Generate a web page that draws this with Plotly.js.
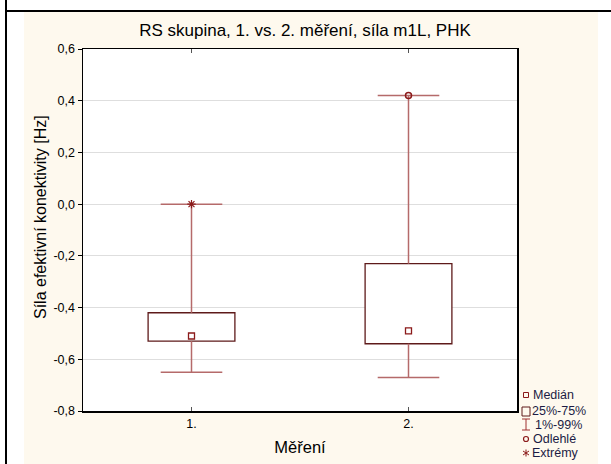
<!DOCTYPE html>
<html>
<head>
<meta charset="utf-8">
<script src="https://cdn.plot.ly/plotly-3.0.1.min.js"></script>
<style>
  html, body { margin: 0; padding: 0; background: #ffffff; }
  #page { position: relative; width: 611px; height: 464px; overflow: hidden; background: #ffffff; }
  #frameLeft { position: absolute; left: 5px; top: 0; width: 2px; height: 464px; background: #000; }
  #frameTop { position: absolute; left: 5px; top: 10px; width: 606px; height: 2px; background: #000; }
  #chart { position: absolute; left: 24px; top: 12px; width: 574px; height: 452px; }
</style>
</head>
<body>
<div id="page">
  <div id="frameLeft"></div>
  <div id="frameTop"></div>
  <div id="chart"></div>
</div>
<script>
// Box-plot summary per measurement
const categories   = ['1.', '2.'];
const q1           = [-0.53, -0.54];
const q3           = [-0.42, -0.23];
const median       = [-0.51, -0.49];
const lowerWhisker = [-0.65, -0.67];
const upperWhisker = [0.00, 0.42];
// Flagged points
const outlierX = ['2.'];
const outlierY = [0.42];
const extremeX = ['1.'];
const extremeY = [0.00];

// Y-axis ticks with decimal commas
const yTickVals = [-0.8, -0.6, -0.4, -0.2, 0.0, 0.2, 0.4, 0.6];
const yTickText = ['-0,8', '-0,6', '-0,4', '-0,2', '0,0', '0,2', '0,4', '0,6'];

const BOX_LINE = '#5e1a1a';
const WHISKER = '#b56a6a';
const MARK = '#8b1a1a';
const FONT = 'Liberation Sans, Arial, sans-serif';

// whisker stems: from box edges out to the whisker ends
const stemX = [], stemY = [];
categories.forEach((c, i) => {
  stemX.push(c, c, null, c, c, null);
  stemY.push(q3[i], upperWhisker[i], null, q1[i], lowerWhisker[i], null);
});
const capX = categories.concat(categories);
const capY = upperWhisker.concat(lowerWhisker);

const traces = [
  {
    type: 'bar', x: categories, base: q1,
    y: q3.map((v, i) => v - q1[i]),
    width: 0.4,
    marker: { color: '#ffffff', line: { color: BOX_LINE, width: 1.3 } },
    hoverinfo: 'skip', showlegend: false
  },
  {
    type: 'scatter', mode: 'lines', x: stemX, y: stemY,
    line: { color: WHISKER, width: 1.5 }, connectgaps: false,
    hoverinfo: 'skip', showlegend: false
  },
  {
    type: 'scatter', mode: 'markers', x: capX, y: capY,
    marker: { symbol: 'line-ew', size: 44, line: { color: WHISKER, width: 1.5 } },
    hoverinfo: 'skip', showlegend: false
  },
  {
    type: 'scatter', mode: 'markers', x: categories, y: median,
    marker: { symbol: 'square-open', size: 6, color: MARK, line: { width: 1.3 } },
    showlegend: false
  },
  {
    type: 'scatter', mode: 'markers', x: outlierX, y: outlierY,
    marker: { symbol: 'circle-open', size: 6, color: MARK, line: { width: 1.5 } },
    showlegend: false
  },
  {
    type: 'scatter', mode: 'markers', x: extremeX, y: extremeY,
    marker: { symbol: 'asterisk-open', size: 7, color: MARK, line: { width: 1.2, color: MARK } },
    showlegend: false
  }
];

// page-pixel to paper conversion for the key and the axis caption
const PL = 83, PR = 517, PT = 49, PB = 411;
const px = X => (X - PL) / (PR - PL);
const py = Y => (PB - Y) / (PB - PT);

const keyShapes = [
  { type: 'rect', xref: 'paper', yref: 'paper', x0: px(523.5), x1: px(528.5), y0: py(397.5), y1: py(392.5),
    line: { color: MARK, width: 1 } },
  { type: 'rect', xref: 'paper', yref: 'paper', x0: px(522), x1: px(530), y0: py(416), y1: py(407),
    line: { color: BOX_LINE, width: 1 } },
  { type: 'path', xref: 'paper', yref: 'paper',
    path: `M ${px(522)} ${py(419)} H ${px(530)} M ${px(526)} ${py(419)} V ${py(430)} M ${px(522)} ${py(430)} H ${px(530)}`,
    line: { color: '#a03030', width: 1 } },
  { type: 'circle', xref: 'paper', yref: 'paper', x0: px(523.5), x1: px(528.5), y0: py(441.5), y1: py(436.5),
    line: { color: MARK, width: 1.2 } },
  { type: 'path', xref: 'paper', yref: 'paper',
    path: `M ${px(526)} ${py(449.5)} V ${py(456.5)} M ${px(523)} ${py(451)} L ${px(529)} ${py(455)} M ${px(523)} ${py(455)} L ${px(529)} ${py(451)}`,
    line: { color: MARK, width: 1 } }
];

const keyLabels = [
  ['Medián', 531, 395],
  ['25%-75%', 530, 411],
  ['1%-99%', 533, 424.5],
  ['Odlehlé', 531, 439],
  ['Extrémy', 530, 453]
];
const annotations = keyLabels.map(([t, X, Y]) => ({
  text: t, xref: 'paper', yref: 'paper', x: px(X), y: py(Y),
  xanchor: 'left', yanchor: 'middle', showarrow: false,
  font: { family: FONT, size: 12.5, color: '#1c1c44' }
}));

// vertical caption of the value axis
annotations.push({
  text: 'Síla efektivní konektivity [Hz]', xref: 'paper', yref: 'paper',
  x: px(40), y: py(217), xanchor: 'center', yanchor: 'middle',
  textangle: -90, showarrow: false,
  font: { family: FONT, size: 16, color: '#000000' }
});

const layout = {
  width: 574, height: 452,
  margin: { l: 59, r: 81, t: 37, b: 53 },
  paper_bgcolor: '#fef9ee',
  plot_bgcolor: '#ffffff',
  font: { family: FONT, color: '#000000' },
  title: {
    text: 'RS skupina, 1. vs. 2. měření, síla m1L, PHK',
    x: px(305), xref: 'paper', xanchor: 'center',
    y: 1 - 18 / 452, yref: 'container', yanchor: 'middle',
    font: { size: 17, color: '#000000' }
  },
  xaxis: {
    type: 'category', range: [-0.5, 1.5],
    tickvals: categories, ticktext: categories,
    ticks: 'inside', ticklen: 4, tickcolor: '#555555',
    showline: true, linecolor: '#000000', linewidth: 1.5, mirror: 'ticks',
    showgrid: false, zeroline: false,
    tickfont: { size: 12.5, color: '#000000' },
    title: { text: 'Měření', font: { size: 16.5, color: '#000000' }, standoff: 12 }
  },
  yaxis: {
    range: [-0.8, 0.6],
    tickvals: yTickVals, ticktext: yTickText,
    ticks: 'outside', ticklen: 4, tickcolor: '#000000',
    showline: true, linecolor: '#000000', linewidth: 1.5, mirror: true,
    showgrid: true, gridcolor: '#dedede', gridwidth: 1, zeroline: false,
    tickfont: { size: 12.5, color: '#000000' }
  },
  bargap: 0,
  shapes: keyShapes,
  annotations: annotations
};

Plotly.newPlot('chart', traces, layout, { displayModeBar: false, staticPlot: true });
</script>
</body>
</html>
